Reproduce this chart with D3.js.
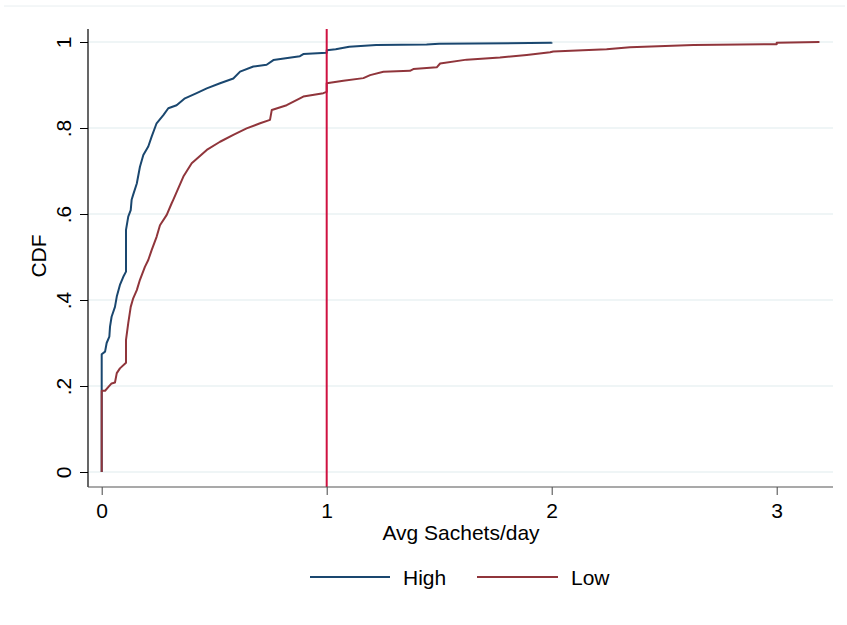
<!DOCTYPE html>
<html>
<head>
<meta charset="utf-8">
<script src="https://cdn.jsdelivr.net/npm/d3@7"></script>
<style>
  body { margin: 0; background: #fff; }
  text { font-family: "Liberation Sans", Arial, sans-serif; fill: #000; }
</style>
</head>
<body>
<svg width="847" height="625"></svg>
<script>
// CDF of average sachets/day
var highX = [0, 0, 0, 0.015, 0.022, 0.034, 0.037, 0.044, 0.059, 0.067, 0.081, 0.096, 0.108, 0.108, 0.118, 0.129, 0.133,
  0.14, 0.156, 0.17, 0.185, 0.207, 0.222, 0.244, 0.274, 0.296, 0.333, 0.37, 0.422, 0.467, 0.526, 0.585, 0.615,
  0.674, 0.733, 0.763, 0.881, 0.896, 1.0, 1.0, 1.04, 1.10, 1.22, 1.444, 1.50, 2.0, 2.0];
var highY = [0, 0.19, 0.274, 0.28, 0.30, 0.315, 0.338, 0.361, 0.384, 0.408, 0.435, 0.454, 0.466, 0.563, 0.594, 0.609, 0.633,
  0.645, 0.671, 0.71, 0.737, 0.757, 0.78, 0.811, 0.83, 0.846, 0.853, 0.869, 0.881, 0.892, 0.904, 0.915, 0.931,
  0.943, 0.947, 0.958, 0.967, 0.972, 0.975, 0.981, 0.983, 0.989, 0.993, 0.994, 0.996, 0.998, 0.999];

var lowX = [0, 0, 0.015, 0.03, 0.044, 0.059, 0.067, 0.081, 0.108, 0.108, 0.118, 0.129, 0.14, 0.156, 0.17, 0.192, 0.207,
  0.222, 0.244, 0.259, 0.289, 0.311, 0.318, 0.363, 0.40, 0.467, 0.526, 0.585, 0.644, 0.704, 0.748, 0.756, 0.822,
  0.881, 0.896, 0.985, 1.0, 1.0, 1.074, 1.163, 1.193, 1.252, 1.37, 1.385, 1.489, 1.504, 1.622, 1.77, 1.889, 1.993,
  2.007, 2.244, 2.348, 2.63, 3.0, 3.0, 3.19];
var lowY = [0, 0.189, 0.189, 0.198, 0.206, 0.208, 0.23, 0.241, 0.254, 0.307, 0.346, 0.384, 0.404, 0.423, 0.447, 0.477, 0.493,
  0.516, 0.547, 0.574, 0.598, 0.625, 0.633, 0.687, 0.718, 0.749, 0.768, 0.784, 0.799, 0.811, 0.819, 0.842, 0.853,
  0.869, 0.873, 0.881, 0.884, 0.904, 0.91, 0.916, 0.923, 0.931, 0.933, 0.937, 0.941, 0.95, 0.959, 0.964, 0.97, 0.976,
  0.978, 0.983, 0.988, 0.993, 0.995, 0.998, 1.0];

var xTicks = [0, 1, 2, 3];
var yTicks = [0, 0.2, 0.4, 0.6, 0.8, 1];
var yTickLabels = ["0", ".2", ".4", ".6", ".8", "1"];
var series = [
  { name: "High", xs: highX, ys: highY, color: "#1a476f" },
  { name: "Low", xs: lowX, ys: lowY, color: "#90353b" }
];
var refLine = 1;

var svg = d3.select("svg");
var plot = { left: 88, right: 833, top: 29, bottom: 487 };

var x = d3.scaleLinear().domain([0, 3]).range([101.7, 776.7]);
var y = d3.scaleLinear().domain([0, 1]).range([472, 42]);

// faint outer border line at the top
svg.append("line")
  .attr("x1", 4).attr("x2", 845).attr("y1", 6).attr("y2", 6)
  .attr("stroke", "#e8eef0").attr("stroke-width", 1);

// gridlines
svg.append("g").selectAll("line")
  .data(yTicks)
  .enter()
  .append("line")
  .attr("x1", plot.left).attr("x2", plot.right)
  .attr("y1", (d) => y(d)).attr("y2", (d) => y(d))
  .attr("stroke", "#eaf2f3").attr("stroke-width", 1.5);

// curves
var line = d3.line()
  .x((d) => x(d[0]))
  .y((d) => y(d[1]));

series.forEach(function (s) {
  svg.append("path")
    .datum(s.xs.map((v, i) => [v, s.ys[i]]))
    .attr("fill", "none")
    .attr("stroke", s.color)
    .attr("stroke-width", 2)
    .attr("stroke-linejoin", "round")
    .attr("d", line);
});

// reference line at 1 sachet/day
svg.append("line")
  .attr("x1", x(refLine)).attr("x2", x(refLine))
  .attr("y1", plot.top).attr("y2", plot.bottom)
  .attr("stroke", "#cf1241").attr("stroke-width", 2);

// y axis
var yAxis = svg.append("g")
  .attr("transform", "translate(" + plot.left + ",0)")
  .call(d3.axisLeft(y).tickValues(yTicks).tickSize(8).tickFormat((d, i) => yTickLabels[i]));
yAxis.select(".domain").remove();
yAxis.selectAll("line").attr("stroke", "#000");
yAxis.selectAll("text")
  .attr("transform", "rotate(-90)")
  .attr("x", 0).attr("y", -17).attr("dy", 0)
  .attr("text-anchor", "middle")
  .style("font-size", "21px")
  .style("font-family", "Liberation Sans, Arial, sans-serif");
svg.append("line")
  .attr("x1", plot.left).attr("x2", plot.left)
  .attr("y1", plot.top).attr("y2", plot.bottom)
  .attr("stroke", "#000").attr("stroke-width", 1.2);

// x axis
var xAxis = svg.append("g")
  .attr("transform", "translate(0," + plot.bottom + ")")
  .call(d3.axisBottom(x).tickValues(xTicks).tickSize(8).tickFormat(d3.format("d")));
xAxis.select(".domain").remove();
xAxis.selectAll("line").attr("stroke", "#444");
xAxis.selectAll("text")
  .attr("y", 31).attr("dy", 0)
  .style("font-size", "21px")
  .style("font-family", "Liberation Sans, Arial, sans-serif");
svg.append("line")
  .attr("x1", plot.left).attr("x2", plot.right)
  .attr("y1", plot.bottom).attr("y2", plot.bottom)
  .attr("stroke", "#555").attr("stroke-width", 1.2);

// axis titles
svg.append("text")
  .attr("x", 461).attr("y", 540)
  .attr("text-anchor", "middle")
  .style("font-size", "21px")
  .text("Avg Sachets/day");

svg.append("text")
  .attr("transform", "translate(46,256) rotate(-90)")
  .attr("text-anchor", "middle")
  .style("font-size", "21px")
  .text("CDF");

// legend
var legendPos = [{ x1: 310, x2: 390, tx: 403 }, { x1: 477, x2: 558, tx: 571 }];
series.forEach(function (s, i) {
  var p = legendPos[i];
  svg.append("line")
    .attr("x1", p.x1).attr("x2", p.x2)
    .attr("y1", 577).attr("y2", 577)
    .attr("stroke", s.color).attr("stroke-width", 2);
  svg.append("text")
    .attr("x", p.tx).attr("y", 585)
    .style("font-size", "21px")
    .text(s.name);
});
</script>
</body>
</html>
